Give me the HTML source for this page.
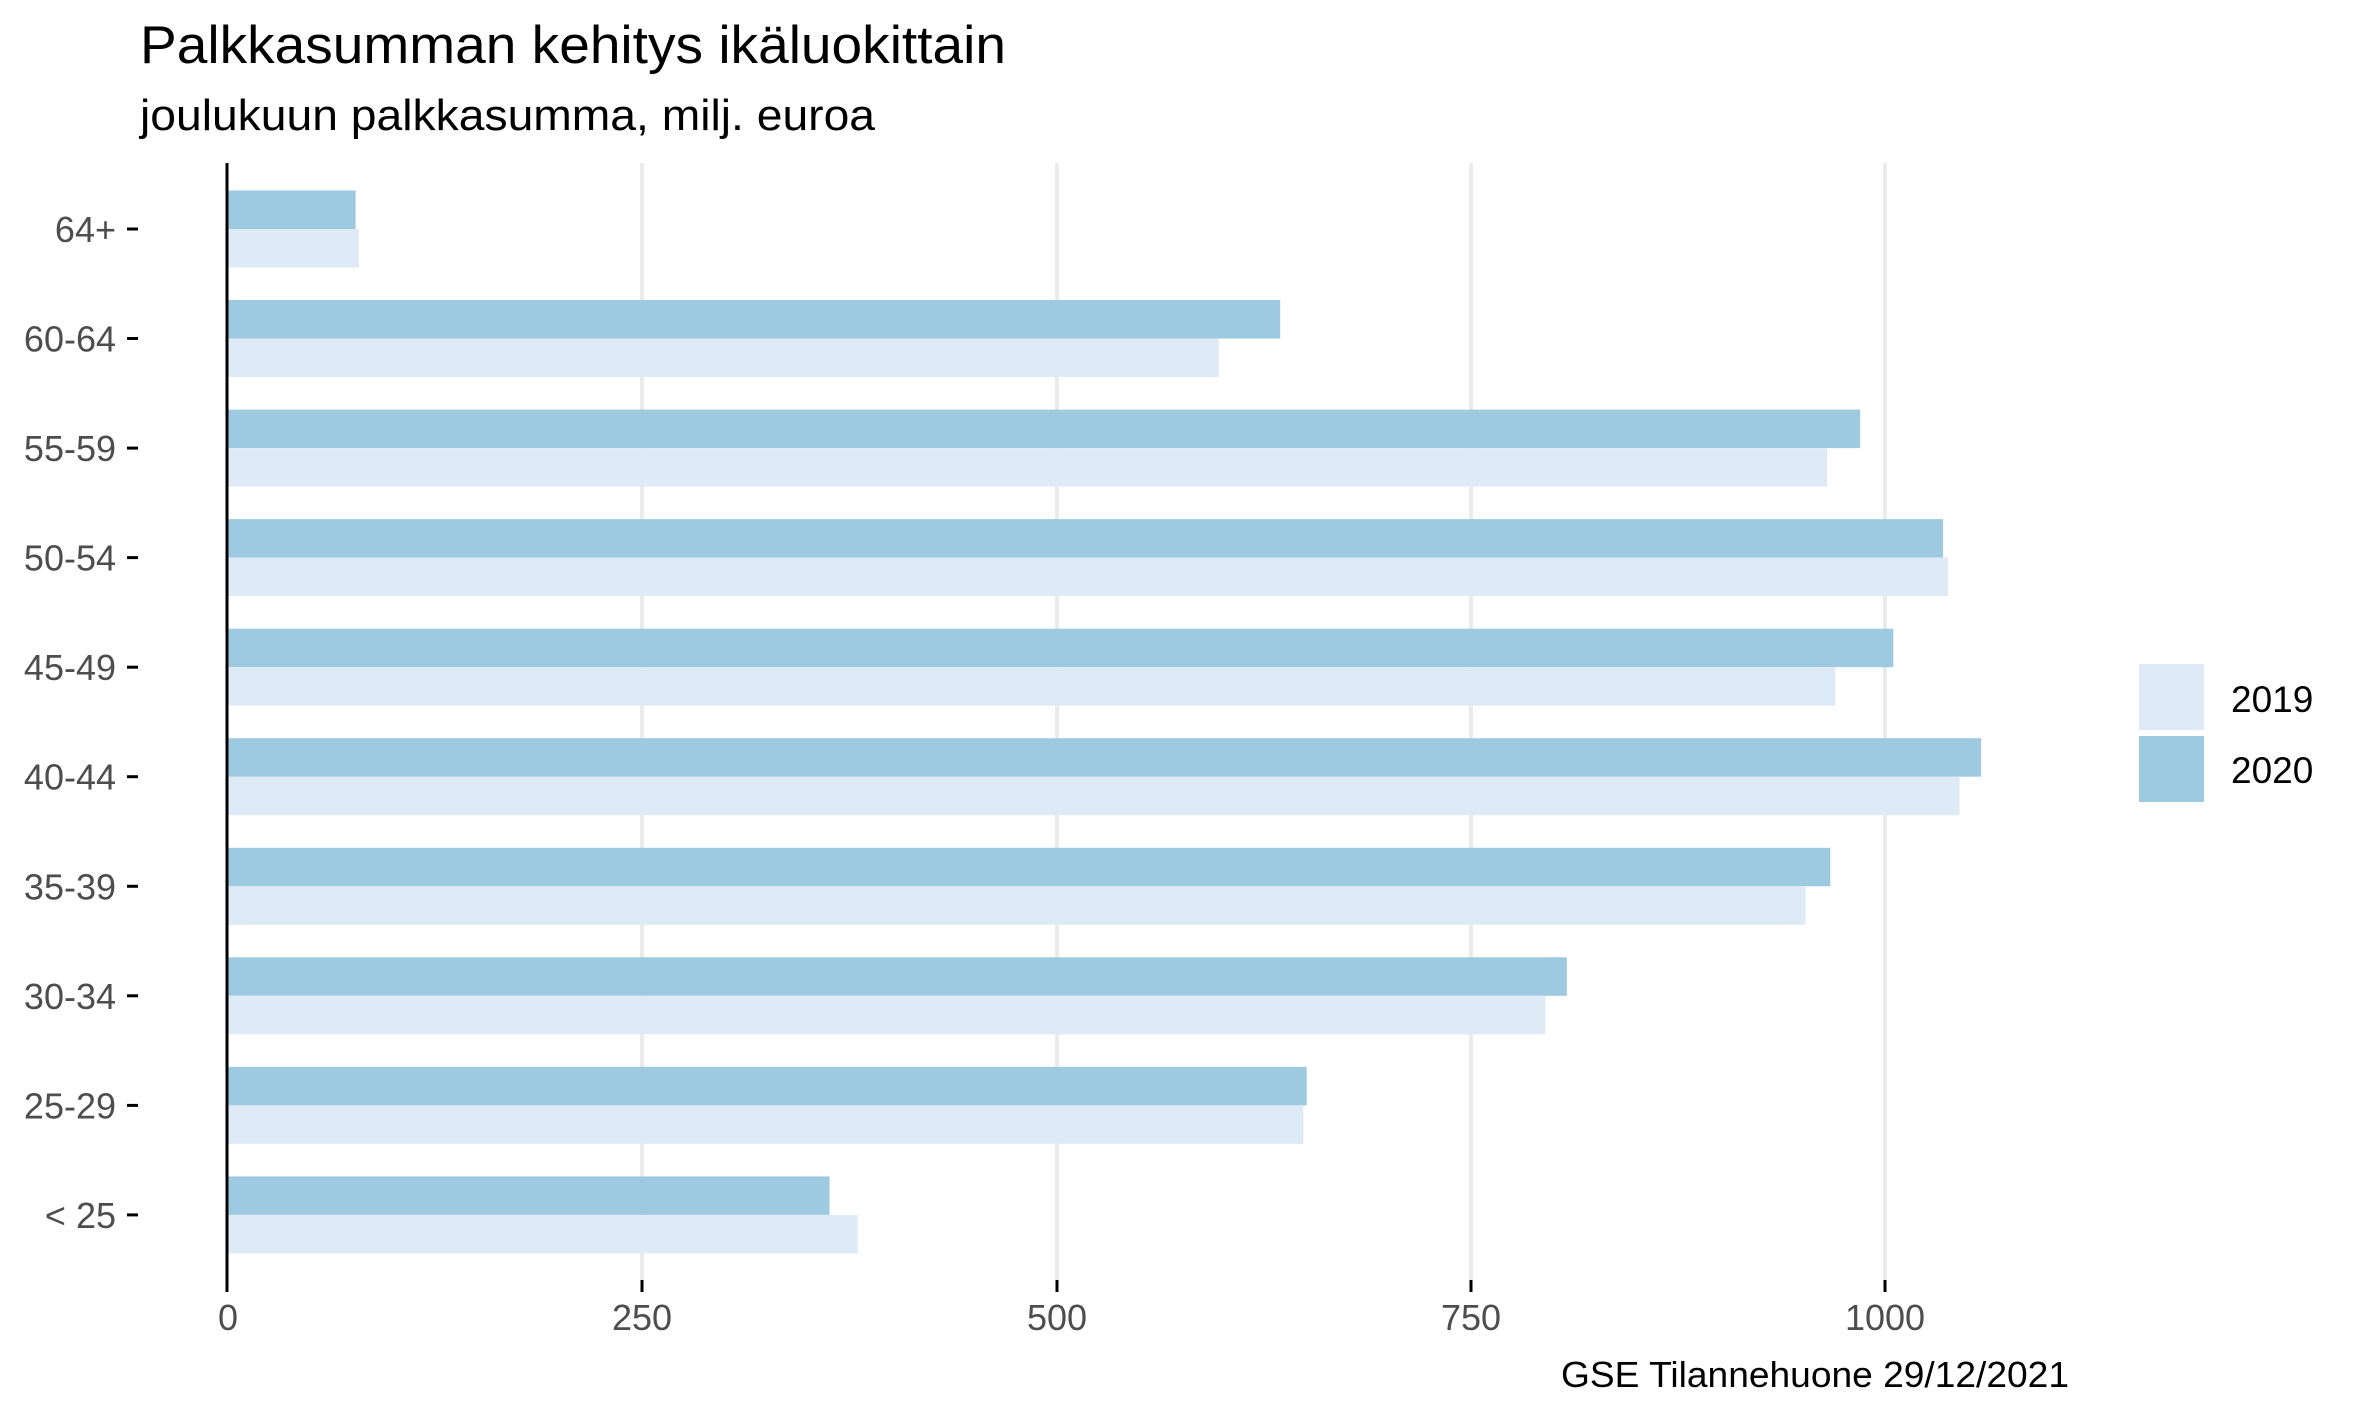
<!DOCTYPE html>
<html><head><meta charset="utf-8"><style>html,body{margin:0;padding:0;background:#fff}svg{display:block}</style></head>
<body>
<svg width="2362" height="1417" xmlns="http://www.w3.org/2000/svg" font-family="Liberation Sans, sans-serif">
<rect width="2362" height="1417" fill="#fff"/>
<text x="140" y="63" font-size="53" fill="#000" textLength="866" lengthAdjust="spacingAndGlyphs">Palkkasumman kehitys ikäluokittain</text>
<text x="140" y="130" font-size="44" fill="#000" textLength="735" lengthAdjust="spacingAndGlyphs">joulukuun palkkasumma, milj. euroa</text>
<g stroke="#ebebeb" stroke-width="4">
<line x1="642" y1="163" x2="642" y2="1280"/>
<line x1="1057" y1="163" x2="1057" y2="1280"/>
<line x1="1471" y1="163" x2="1471" y2="1280"/>
<line x1="1885" y1="163" x2="1885" y2="1280"/>
</g>
<g>
<rect x="228" y="190.5" width="127.6" height="38.5" fill="#9ecae1"/><rect x="228" y="229" width="130.9" height="38.5" fill="#deebf7"/>
<rect x="228" y="300" width="1052.2" height="38.5" fill="#9ecae1"/><rect x="228" y="338.5" width="990.9" height="38.5" fill="#deebf7"/>
<rect x="228" y="409.6" width="1632.1" height="38.5" fill="#9ecae1"/><rect x="228" y="448.1" width="1599" height="38.5" fill="#deebf7"/>
<rect x="228" y="519.1" width="1715" height="38.5" fill="#9ecae1"/><rect x="228" y="557.6" width="1720" height="38.5" fill="#deebf7"/>
<rect x="228" y="628.7" width="1665.3" height="38.5" fill="#9ecae1"/><rect x="228" y="667.2" width="1607.3" height="38.5" fill="#deebf7"/>
<rect x="228" y="738.2" width="1753.1" height="38.5" fill="#9ecae1"/><rect x="228" y="776.7" width="1731.6" height="38.5" fill="#deebf7"/>
<rect x="228" y="847.8" width="1602.3" height="38.5" fill="#9ecae1"/><rect x="228" y="886.3" width="1577.5" height="38.5" fill="#deebf7"/>
<rect x="228" y="957.3" width="1338.9" height="38.5" fill="#9ecae1"/><rect x="228" y="995.8" width="1317.3" height="38.5" fill="#deebf7"/>
<rect x="228" y="1066.9" width="1078.7" height="38.5" fill="#9ecae1"/><rect x="228" y="1105.4" width="1075.4" height="38.5" fill="#deebf7"/>
<rect x="228" y="1176.4" width="601.5" height="38.5" fill="#9ecae1"/><rect x="228" y="1214.9" width="629.7" height="38.5" fill="#deebf7"/>
</g>
<g stroke="#000" stroke-width="3">
<line x1="127" y1="229" x2="138" y2="229"/>
<line x1="127" y1="338.5" x2="138" y2="338.5"/>
<line x1="127" y1="448.1" x2="138" y2="448.1"/>
<line x1="127" y1="557.6" x2="138" y2="557.6"/>
<line x1="127" y1="667.2" x2="138" y2="667.2"/>
<line x1="127" y1="776.7" x2="138" y2="776.7"/>
<line x1="127" y1="886.3" x2="138" y2="886.3"/>
<line x1="127" y1="995.8" x2="138" y2="995.8"/>
<line x1="127" y1="1105.4" x2="138" y2="1105.4"/>
<line x1="127" y1="1214.9" x2="138" y2="1214.9"/>
</g>
<g font-size="36" fill="#4d4d4d" text-anchor="end">
<text x="116" y="242">64+</text>
<text x="116" y="351.5">60-64</text>
<text x="116" y="461.1">55-59</text>
<text x="116" y="570.6">50-54</text>
<text x="116" y="680.2">45-49</text>
<text x="116" y="789.7">40-44</text>
<text x="116" y="899.3">35-39</text>
<text x="116" y="1008.8">30-34</text>
<text x="116" y="1118.4">25-29</text>
<text x="116" y="1227.9">&lt; 25</text>
</g>
<line x1="227" y1="163" x2="227" y2="1292" stroke="#000" stroke-width="3"/>
<g stroke="#000" stroke-width="3">
<line x1="642" y1="1280" x2="642" y2="1292"/>
<line x1="1057" y1="1280" x2="1057" y2="1292"/>
<line x1="1471" y1="1280" x2="1471" y2="1292"/>
<line x1="1885" y1="1280" x2="1885" y2="1292"/>
</g>
<g font-size="36" fill="#4d4d4d" text-anchor="middle">
<text x="228" y="1330">0</text>
<text x="642" y="1330">250</text>
<text x="1057" y="1330">500</text>
<text x="1471" y="1330">750</text>
<text x="1885" y="1330">1000</text>
</g>
<rect x="2139" y="664" width="65" height="66" fill="#deebf7"/>
<rect x="2139" y="736" width="65" height="66" fill="#9ecae1"/>
<text x="2231" y="712" font-size="37" fill="#000">2019</text>
<text x="2231" y="783" font-size="37" fill="#000">2020</text>
<text x="2069" y="1387" font-size="36" fill="#000" text-anchor="end" textLength="508" lengthAdjust="spacingAndGlyphs">GSE Tilannehuone 29/12/2021</text>
</svg>
</body></html>
